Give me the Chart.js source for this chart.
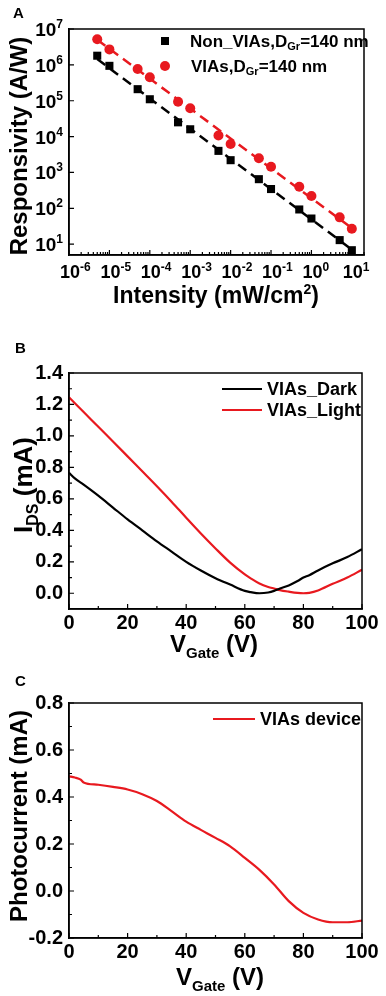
<!DOCTYPE html>
<html><head><meta charset="utf-8">
<script src="https://cdn.jsdelivr.net/npm/chart.js@4.4.1/dist/chart.umd.min.js"></script>
<style>
html,body{margin:0;padding:0;background:#fff;width:386px;height:996px;overflow:hidden;position:relative;}
canvas{position:absolute;left:0;}
</style></head><body>
<canvas id="cA" width="386" height="325" style="top:0px;width:386px;height:325px"></canvas>
<canvas id="cB" width="386" height="345" style="top:325px;width:386px;height:345px"></canvas>
<canvas id="cC" width="386" height="341" style="top:655px;width:386px;height:341px"></canvas>
<script>
// ---------- Panel A data ----------
const intensity = [5e-6, 1e-5, 5e-5, 1e-4, 5e-4, 1e-3, 5e-3, 1e-2, 5e-2, 1e-1, 5e-1, 1, 5, 10];
const respNonVIAs = [1.8e6, 9.4e5, 2.1e5, 1.1e5, 2.5e4, 1.6e4, 4.0e3, 2.2e3, 650, 345, 93, 52, 13, 6.8];
const respVIAs = [5.2e6, 2.7e6, 7.7e5, 4.5e5, 9.4e4, 6.2e4, 1.07e4, 6.2e3, 2.5e3, 1.45e3, 400, 220, 56, 27];
const fitX = [5e-6, 10];
const fitNonVIAs = [1.45e6, 7.1];
const fitVIAs = [5.0e6, 28];
const xTickExpsA = [-6, -5, -4, -3, -2, -1, 0, 1];
const yTickExpsA = [1, 2, 3, 4, 5, 6, 7];
const seriesNamesA = ["Non_VIAs,D", "VIAs,D"];

// ---------- Panel B data ----------
const gateB = [0, 2, 5, 10, 15, 20, 25, 30, 35, 40, 45, 50, 55, 60, 62, 65, 68, 70, 72, 75, 78, 80, 82, 85, 90, 95, 100];
const darkB = [0.766, 0.73, 0.69, 0.62, 0.545, 0.47, 0.40, 0.33, 0.265, 0.20, 0.145, 0.096, 0.055, 0.015, 0.007, 0.0, 0.005, 0.015, 0.03, 0.05, 0.078, 0.10, 0.115, 0.145, 0.19, 0.23, 0.28];
const lightB = [1.245, 1.208, 1.152, 1.058, 0.965, 0.87, 0.775, 0.68, 0.582, 0.48, 0.38, 0.285, 0.195, 0.12, 0.095, 0.062, 0.04, 0.03, 0.02, 0.01, 0.002, 0.0, 0.003, 0.018, 0.06, 0.10, 0.15];
const xTicksB = [0, 20, 40, 60, 80, 100];
const yTicksB = [0, 0.2, 0.4, 0.6, 0.8, 1.0, 1.2, 1.4];
const seriesNamesB = ["VIAs_Dark", "VIAs_Light"];

// ---------- Panel C data ----------
const gateC = [0, 2, 4, 5, 10, 15, 20, 25, 30, 35, 40, 45, 50, 55, 60, 65, 70, 75, 80, 85, 90, 95, 100];
const photoC = [0.488, 0.483, 0.474, 0.462, 0.452, 0.443, 0.432, 0.412, 0.383, 0.34, 0.295, 0.26, 0.226, 0.19, 0.141, 0.09, 0.028, -0.043, -0.093, -0.121, -0.133, -0.133, -0.126];
const xTicksC = [0, 20, 40, 60, 80, 100];
const yTicksC = [-0.2, 0, 0.2, 0.4, 0.6, 0.8];
const seriesNamesC = ["VIAs device"];

const RED = '#e8191f';
const FONT = '"Liberation Sans", Arial, sans-serif';

function rich(ctx, parts, x, y, align) {
  let w = 0;
  parts.forEach(p => { ctx.font = `bold ${p.s}px ${FONT}`; p.w = ctx.measureText(p.t).width; w += p.w; });
  let cx = align === 'center' ? x - w / 2 : (align === 'right' ? x - w : x);
  ctx.textAlign = 'left';
  parts.forEach(p => { ctx.font = `bold ${p.s}px ${FONT}`; ctx.fillText(p.t, cx, y + (p.dy || 0)); cx += p.w; });
}
function rotRich(ctx, parts, x, y) {
  ctx.save(); ctx.translate(x, y); ctx.rotate(-Math.PI / 2);
  rich(ctx, parts, 0, 0, 'center'); ctx.restore();
}
function frame(chart) {
  const a = chart.chartArea, ctx = chart.ctx;
  ctx.save(); ctx.strokeStyle = '#000'; ctx.lineWidth = 1.5;
  ctx.strokeRect(a.left, a.top, a.right - a.left, a.bottom - a.top); ctx.restore();
}
function ticksIn(chart, id, vals, len) {
  const s = chart.scales[id], a = chart.chartArea, ctx = chart.ctx;
  ctx.save(); ctx.strokeStyle = '#000'; ctx.lineWidth = 1.2; ctx.beginPath();
  vals.forEach(v => {
    const p = s.getPixelForValue(v);
    if (s.isHorizontal()) { ctx.moveTo(p, a.bottom); ctx.lineTo(p, a.bottom - len); }
    else { ctx.moveTo(a.left, p); ctx.lineTo(a.left + len, p); }
  });
  ctx.stroke(); ctx.restore();
}
function legendLine(ctx, x1, x2, y, color, text) {
  ctx.save(); ctx.strokeStyle = color; ctx.lineWidth = 2.2;
  ctx.beginPath(); ctx.moveTo(x1, y); ctx.lineTo(x2, y); ctx.stroke();
  ctx.fillStyle = '#000'; ctx.textBaseline = 'middle';
  rich(ctx, [{ t: text, s: 18 }], x2 + 5, y + 1, 'left');
  ctx.restore();
}

const baseScale = (extra) => Object.assign({
  grid: { display: false, drawTicks: false },
  border: { display: true, color: '#000', width: 1.5 }
}, extra);

// ---------- Chart A ----------
const plugA = {
  id: 'pA',
  afterDraw(chart) {
    const ctx = chart.ctx, xs = chart.scales.x, ys = chart.scales.y, a = chart.chartArea;
    frame(chart);
    const xMaj = xTickExpsA.map(e => Math.pow(10, e));
    const xMin = [];
    xTickExpsA.forEach(e => { for (let k = 2; k <= 9; k++) { const v = k * Math.pow(10, e); if (v <= xs.max) xMin.push(v); } });
    ticksIn(chart, 'x', xMaj, 5); ticksIn(chart, 'x', xMin, 3);
    ticksIn(chart, 'y', yTickExpsA.map(e => Math.pow(10, e)), 5);
    ctx.save(); ctx.fillStyle = '#000'; ctx.textBaseline = 'alphabetic';
    xTickExpsA.forEach(e => {
      const p = xs.getPixelForValue(Math.pow(10, e));
      ctx.font = `bold 18px ${FONT}`;
      const w10 = ctx.measureText('10').width;
      rich(ctx, [{ t: '10', s: 18 }, { t: String(e), s: 12, dy: -7 }], p - w10 / 2 + 1, 278, 'left');
    });
    yTickExpsA.forEach(e => {
      const p = ys.getPixelForValue(Math.pow(10, e));
      rich(ctx, [{ t: '10', s: 19 }, { t: String(e), s: 12, dy: -8 }], a.left - 6, p + 7, 'right');
    });
    // titles
    rich(ctx, [{ t: 'Intensity (mW/cm', s: 23 }, { t: '2', s: 14, dy: -9 }, { t: ')', s: 23 }], 216, 303, 'center');
    rotRich(ctx, [{ t: 'Responsivity (A/W)', s: 24 }], 27, 146);
    rich(ctx, [{ t: 'A', s: 15 }], 13, 18, 'left');
    // legend
    ctx.textBaseline = 'middle';
    ctx.fillStyle = '#000'; ctx.fillRect(165 - 4, 41 - 4, 8, 8);
    rich(ctx, [{ t: seriesNamesA[0], s: 17 }, { t: 'Gr', s: 11, dy: 5 }, { t: '=140 nm', s: 17 }], 190, 42, 'left');
    ctx.fillStyle = RED; ctx.beginPath(); ctx.arc(165, 66, 5, 0, Math.PI * 2); ctx.fill();
    ctx.fillStyle = '#000';
    rich(ctx, [{ t: seriesNamesA[1], s: 17 }, { t: 'Gr', s: 11, dy: 5 }, { t: '=140 nm', s: 17 }], 191, 67, 'left');
    ctx.restore();
  }
};
new Chart(document.getElementById('cA'), {
  type: 'scatter',
  data: {
    datasets: [
      { label: seriesNamesA[0], data: intensity.map((x, i) => ({ x, y: respNonVIAs[i] })), pointStyle: 'rect', pointRadius: 5.7, backgroundColor: '#000', borderColor: '#000', borderWidth: 0, order: 1 },
      { label: seriesNamesA[1], data: intensity.map((x, i) => ({ x, y: respVIAs[i] })), pointStyle: 'circle', pointRadius: 5, backgroundColor: RED, borderColor: RED, borderWidth: 0, order: 1 },
      { label: 'fit1', data: fitX.map((x, i) => ({ x, y: fitNonVIAs[i] })), showLine: true, pointRadius: 0, borderColor: '#000', borderWidth: 2.5, borderDash: [10, 6], order: 2 },
      { label: 'fit2', data: fitX.map((x, i) => ({ x, y: fitVIAs[i] })), showLine: true, pointRadius: 0, borderColor: RED, borderWidth: 2.5, borderDash: [10, 6], order: 2 }
    ]
  },
  options: {
    responsive: false, animation: false, clip: false,
    layout: { padding: { top: 29, right: 22, left: 0, bottom: 0 } },
    plugins: { legend: { display: false }, tooltip: { enabled: false } },
    scales: {
      x: baseScale({ type: 'logarithmic', min: 1e-6, max: 20, ticks: { display: false }, afterFit(s) { s.height = 70; } }),
      y: baseScale({ type: 'logarithmic', min: 5, max: 1e7, ticks: { display: false }, afterFit(s) { s.width = 69; } })
    }
  },
  plugins: [plugA]
});

// ---------- Chart B ----------
const tickFont = { family: FONT, size: 20, weight: 'bold' };
const plugB = {
  id: 'pB',
  afterDraw(chart) {
    const ctx = chart.ctx;
    frame(chart);
    ticksIn(chart, 'x', xTicksB, 5); ticksIn(chart, 'x', [10, 30, 50, 70, 90], 3);
    ticksIn(chart, 'y', yTicksB, 5); ticksIn(chart, 'y', [0.1, 0.3, 0.5, 0.7, 0.9, 1.1, 1.3], 3);
    ctx.save(); ctx.fillStyle = '#000'; ctx.textBaseline = 'alphabetic';
    rich(ctx, [{ t: 'V', s: 24 }, { t: 'Gate', s: 15, dy: 6 }, { t: ' (V)', s: 24 }], 214, 327, 'center');
    rotRich(ctx, [{ t: 'I', s: 26 }, { t: 'DS', s: 16, dy: 6 }, { t: ' (mA)', s: 26 }], 32, 160);
    rich(ctx, [{ t: 'B', s: 15 }], 15, 28, 'left');
    legendLine(ctx, 222, 262, 64, '#000', seriesNamesB[0]);
    legendLine(ctx, 222, 262, 85, RED, seriesNamesB[1]);
    ctx.restore();
  }
};
new Chart(document.getElementById('cB'), {
  type: 'line',
  data: {
    datasets: [
      { label: seriesNamesB[0], data: gateB.map((x, i) => ({ x, y: darkB[i] })), borderColor: '#000', borderWidth: 2.2, pointRadius: 0, cubicInterpolationMode: 'monotone' },
      { label: seriesNamesB[1], data: gateB.map((x, i) => ({ x, y: lightB[i] })), borderColor: RED, borderWidth: 2.2, pointRadius: 0, cubicInterpolationMode: 'monotone' }
    ]
  },
  options: {
    responsive: false, animation: false,
    layout: { padding: { top: 48, right: 24, left: 0, bottom: 0 } },
    plugins: { legend: { display: false }, tooltip: { enabled: false } },
    scales: {
      x: baseScale({ type: 'linear', min: 0, max: 100, afterBuildTicks(s) { s.ticks = xTicksB.map(v => ({ value: v })); },
        ticks: { font: tickFont, color: '#000', padding: 2, maxRotation: 0 }, afterFit(s) { s.height = 61; } }),
      y: baseScale({ type: 'linear', min: -0.1, max: 1.4, afterBuildTicks(s) { s.ticks = yTicksB.map(v => ({ value: v })); },
        ticks: { font: tickFont, color: '#000', padding: 6, callback: v => v.toFixed(1) }, afterFit(s) { s.width = 69; } })
    }
  },
  plugins: [plugB]
});

// ---------- Chart C ----------
const plugC = {
  id: 'pC',
  afterDraw(chart) {
    const ctx = chart.ctx;
    frame(chart);
    ticksIn(chart, 'x', xTicksC, 5); ticksIn(chart, 'x', [10, 30, 50, 70, 90], 3);
    ticksIn(chart, 'y', yTicksC, 5); ticksIn(chart, 'y', [-0.1, 0.1, 0.3, 0.5, 0.7], 3);
    ctx.save(); ctx.fillStyle = '#000'; ctx.textBaseline = 'alphabetic';
    rich(ctx, [{ t: 'V', s: 24 }, { t: 'Gate', s: 15, dy: 6 }, { t: ' (V)', s: 24 }], 220, 330, 'center');
    rotRich(ctx, [{ t: 'Photocurrent (mA)', s: 24 }], 27, 161);
    rich(ctx, [{ t: 'C', s: 15 }], 15, 31, 'left');
    legendLine(ctx, 213, 255, 64, RED, seriesNamesC[0]);
    ctx.restore();
  }
};
new Chart(document.getElementById('cC'), {
  type: 'line',
  data: {
    datasets: [
      { label: seriesNamesC[0], data: gateC.map((x, i) => ({ x, y: photoC[i] })), borderColor: RED, borderWidth: 2.2, pointRadius: 0, cubicInterpolationMode: 'monotone' }
    ]
  },
  options: {
    responsive: false, animation: false,
    layout: { padding: { top: 48, right: 24, left: 0, bottom: 0 } },
    plugins: { legend: { display: false }, tooltip: { enabled: false } },
    scales: {
      x: baseScale({ type: 'linear', min: 0, max: 100, afterBuildTicks(s) { s.ticks = xTicksC.map(v => ({ value: v })); },
        ticks: { font: tickFont, color: '#000', padding: 2, maxRotation: 0 }, afterFit(s) { s.height = 58; } }),
      y: baseScale({ type: 'linear', min: -0.2, max: 0.8, afterBuildTicks(s) { s.ticks = yTicksC.map(v => ({ value: v })); },
        ticks: { font: tickFont, color: '#000', padding: 6, callback: v => v.toFixed(1) }, afterFit(s) { s.width = 69; } })
    }
  },
  plugins: [plugC]
});
</script>
</body></html>
